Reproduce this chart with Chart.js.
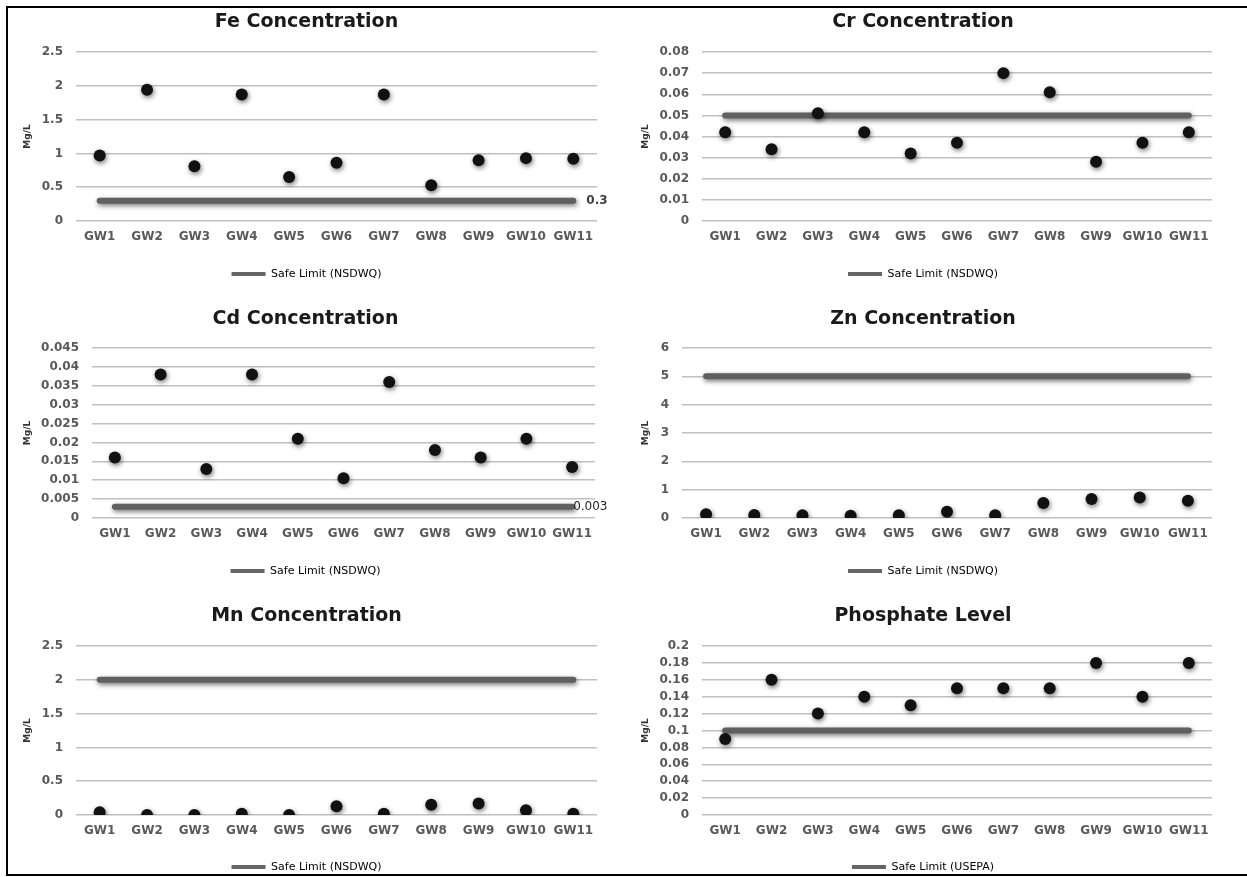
<!DOCTYPE html>
<html>
<head>
<meta charset="utf-8">
<script src="https://cdn.jsdelivr.net/npm/chart.js@4.4.0/dist/chart.umd.min.js"></script>
<style>
  html, body { margin: 0; padding: 0; background: #fff; overflow: hidden; }
  body { width: 1247px; height: 877px; position: relative; }
  canvas { position: absolute; }
  #frame { position: absolute; left: 6px; top: 6px; width: 1260px; height: 866px; border: 2px solid #000; pointer-events: none; }
</style>
</head>
<body>
<canvas id="fe" width="612" height="282" style="left:8px;top:8px"></canvas>
<canvas id="cr" width="627" height="282" style="left:620px;top:8px"></canvas>
<canvas id="cd" width="612" height="297" style="left:8px;top:290px"></canvas>
<canvas id="zn" width="627" height="297" style="left:620px;top:290px"></canvas>
<canvas id="mn" width="612" height="303" style="left:8px;top:580px"></canvas>
<canvas id="po" width="627" height="303" style="left:620px;top:580px"></canvas>
<div id="frame"></div>
<script>
const wells = ["GW1","GW2","GW3","GW4","GW5","GW6","GW7","GW8","GW9","GW10","GW11"];

const feValues = [0.97, 1.94, 0.81, 1.87, 0.65, 0.86, 1.87, 0.53, 0.90, 0.93, 0.92];
const feLimit  = [0.3, 0.3, 0.3, 0.3, 0.3, 0.3, 0.3, 0.3, 0.3, 0.3, 0.3];

const crValues = [0.042, 0.034, 0.051, 0.042, 0.032, 0.037, 0.070, 0.061, 0.028, 0.037, 0.042];
const crLimit  = [0.05, 0.05, 0.05, 0.05, 0.05, 0.05, 0.05, 0.05, 0.05, 0.05, 0.05];

const cdValues = [0.016, 0.038, 0.013, 0.038, 0.021, 0.0105, 0.036, 0.018, 0.016, 0.021, 0.0135];
const cdLimit  = [0.003, 0.003, 0.003, 0.003, 0.003, 0.003, 0.003, 0.003, 0.003, 0.003, 0.003];

const znValues = [0.13, 0.11, 0.10, 0.08, 0.10, 0.22, 0.10, 0.53, 0.67, 0.72, 0.61];
const znLimit  = [5, 5, 5, 5, 5, 5, 5, 5, 5, 5, 5];

const mnValues = [0.04, 0, 0, 0.02, 0, 0.13, 0.02, 0.15, 0.17, 0.07, 0.02];
const mnLimit  = [2, 2, 2, 2, 2, 2, 2, 2, 2, 2, 2];

const poValues = [0.09, 0.16, 0.12, 0.14, 0.13, 0.15, 0.15, 0.15, 0.18, 0.14, 0.18];
const poLimit  = [0.1, 0.1, 0.1, 0.1, 0.1, 0.1, 0.1, 0.1, 0.1, 0.1, 0.1];

// y axis ranges: [max, step]
const feAxis = [2.5, 0.5];
const crAxis = [0.08, 0.01];
const cdAxis = [0.045, 0.005];
const znAxis = [6, 1];
const mnAxis = [2.5, 0.5];
const poAxis = [0.2, 0.02];

const FONT = "DejaVu Sans";

// soft drop shadow like the spreadsheet markers
const shadow = {
  id: "shadow",
  beforeDatasetDraw(chart) {
    const c = chart.ctx;
    c.save();
    c.shadowColor = "rgba(0,0,0,0.55)";
    c.shadowBlur = 5;
    c.shadowOffsetX = 1;
    c.shadowOffsetY = 2;
  },
  afterDatasetDraw(chart) {
    chart.ctx.restore();
  }
};

// value label at the end of the limit line
const endLabel = {
  id: "endLabel",
  afterDatasetsDraw(chart, args, opts) {
    if (!opts.show) return;
    const meta = chart.getDatasetMeta(1);
    const pt = meta.data[meta.data.length - 1];
    const data = chart.data.datasets[1].data;
    const ctx = chart.ctx;
    ctx.save();
    ctx.font = opts.font;
    ctx.fillStyle = opts.color;
    ctx.textBaseline = "middle";
    ctx.fillText(String(data[data.length - 1]), pt.x + opts.dx, pt.y);
    ctx.restore();
  }
};

function makeChart(id, title, values, limit, limitName, axis, lay) {
  return new Chart(document.getElementById(id), {
    type: "line",
    data: {
      labels: wells,
      datasets: [
        {
          data: values,
          showLine: false,
          pointRadius: 6,
          pointHoverRadius: 6,
          pointBackgroundColor: "#111",
          pointBorderWidth: 0
        },
        {
          label: limitName,
          data: limit,
          borderColor: "#606060",
          borderWidth: 6,
          borderCapStyle: "round",
          pointRadius: 0,
          fill: false
        }
      ]
    },
    plugins: [shadow, endLabel],
    options: {
      responsive: false,
      animation: false,
      layout: { padding: { left: lay.padL, right: lay.padR, top: 0, bottom: lay.padB } },
      plugins: {
        tooltip: { enabled: false },
        title: {
          display: true,
          text: title,
          color: "#1a1a1a",
          font: { family: FONT, size: 19, weight: "bold", lineHeight: 1.2 },
          padding: lay.titlePad
        },
        legend: {
          position: "bottom",
          labels: {
            font: { family: FONT, size: 11 },
            color: "#404040",
            boxWidth: 34,
            boxHeight: 4,
            padding: lay.legendPad,
            generateLabels: () => [{
              text: limitName, fillStyle: "#666", strokeStyle: "#666",
              lineWidth: 0, hidden: false, datasetIndex: 1
            }]
          }
        },
        endLabel: lay.endLabel || { show: false }
      },
      scales: {
        x: {
          offset: true,
          grid: { display: false, drawTicks: false },
          border: { display: false },
          ticks: {
            color: "#595959",
            padding: 9,
            maxRotation: 0,
            autoSkip: false,
            font: { family: FONT, size: 12, weight: "bold", lineHeight: 1.2 }
          }
        },
        y: {
          min: 0,
          max: axis[0],
          border: { display: false },
          grid: { color: "#c0c0c0", lineWidth: 1.5, drawTicks: false },
          ticks: {
            stepSize: axis[1],
            autoSkip: false,
            color: "#595959",
            padding: 13,
            font: { family: FONT, size: 12, weight: "bold" },
            callback: v => String(Number(v.toFixed(4)))
          },
          title: {
            display: true,
            text: "Mg/L",
            color: "#333",
            font: { family: FONT, size: 9, weight: "bold", lineHeight: 1.2 },
            padding: { top: 6, bottom: 0 }
          },
          afterFit: s => { s.width = lay.axisW; }
        }
      }
    }
  });
}

const row1 = { titlePad: { top: 2.6, bottom: 18.6 }, legendPad: 15, padB: 0.6 };
const row2 = { titlePad: { top: 17.6, bottom: 17.6 }, legendPad: 15, padB: 0.6 };
const row3 = { titlePad: { top: 24.6, bottom: 18.6 }, legendPad: 14, padB: 0.6 };

makeChart("fe", "Fe Concentration", feValues, feLimit, "Safe Limit (NSDWQ)", feAxis,
  Object.assign({}, row1, { padL: 8, padR: 23, axisW: 60,
    endLabel: { show: true, dx: 13, font: "bold 12px " + FONT, color: "#404040" } }));
makeChart("cr", "Cr Concentration", crValues, crLimit, "Safe Limit (NSDWQ)", crAxis,
  Object.assign({}, row1, { padL: 14, padR: 35, axisW: 68 }));
makeChart("cd", "Cd Concentration", cdValues, cdLimit, "Safe Limit (NSDWQ)", cdAxis,
  Object.assign({}, row2, { padL: 8, padR: 25, axisW: 76,
    endLabel: { show: true, dx: 1, font: "12px " + FONT, color: "#262626" } }));
makeChart("zn", "Zn Concentration", znValues, znLimit, "Safe Limit (NSDWQ)", znAxis,
  Object.assign({}, row2, { padL: 14, padR: 35, axisW: 48 }));
makeChart("mn", "Mn Concentration", mnValues, mnLimit, "Safe Limit (NSDWQ)", mnAxis,
  Object.assign({}, row3, { padL: 8, padR: 23, axisW: 60 }));
makeChart("po", "Phosphate Level", poValues, poLimit, "Safe Limit (USEPA)", poAxis,
  Object.assign({}, row3, { padL: 14, padR: 35, axisW: 68 }));
</script>
</body>
</html>
